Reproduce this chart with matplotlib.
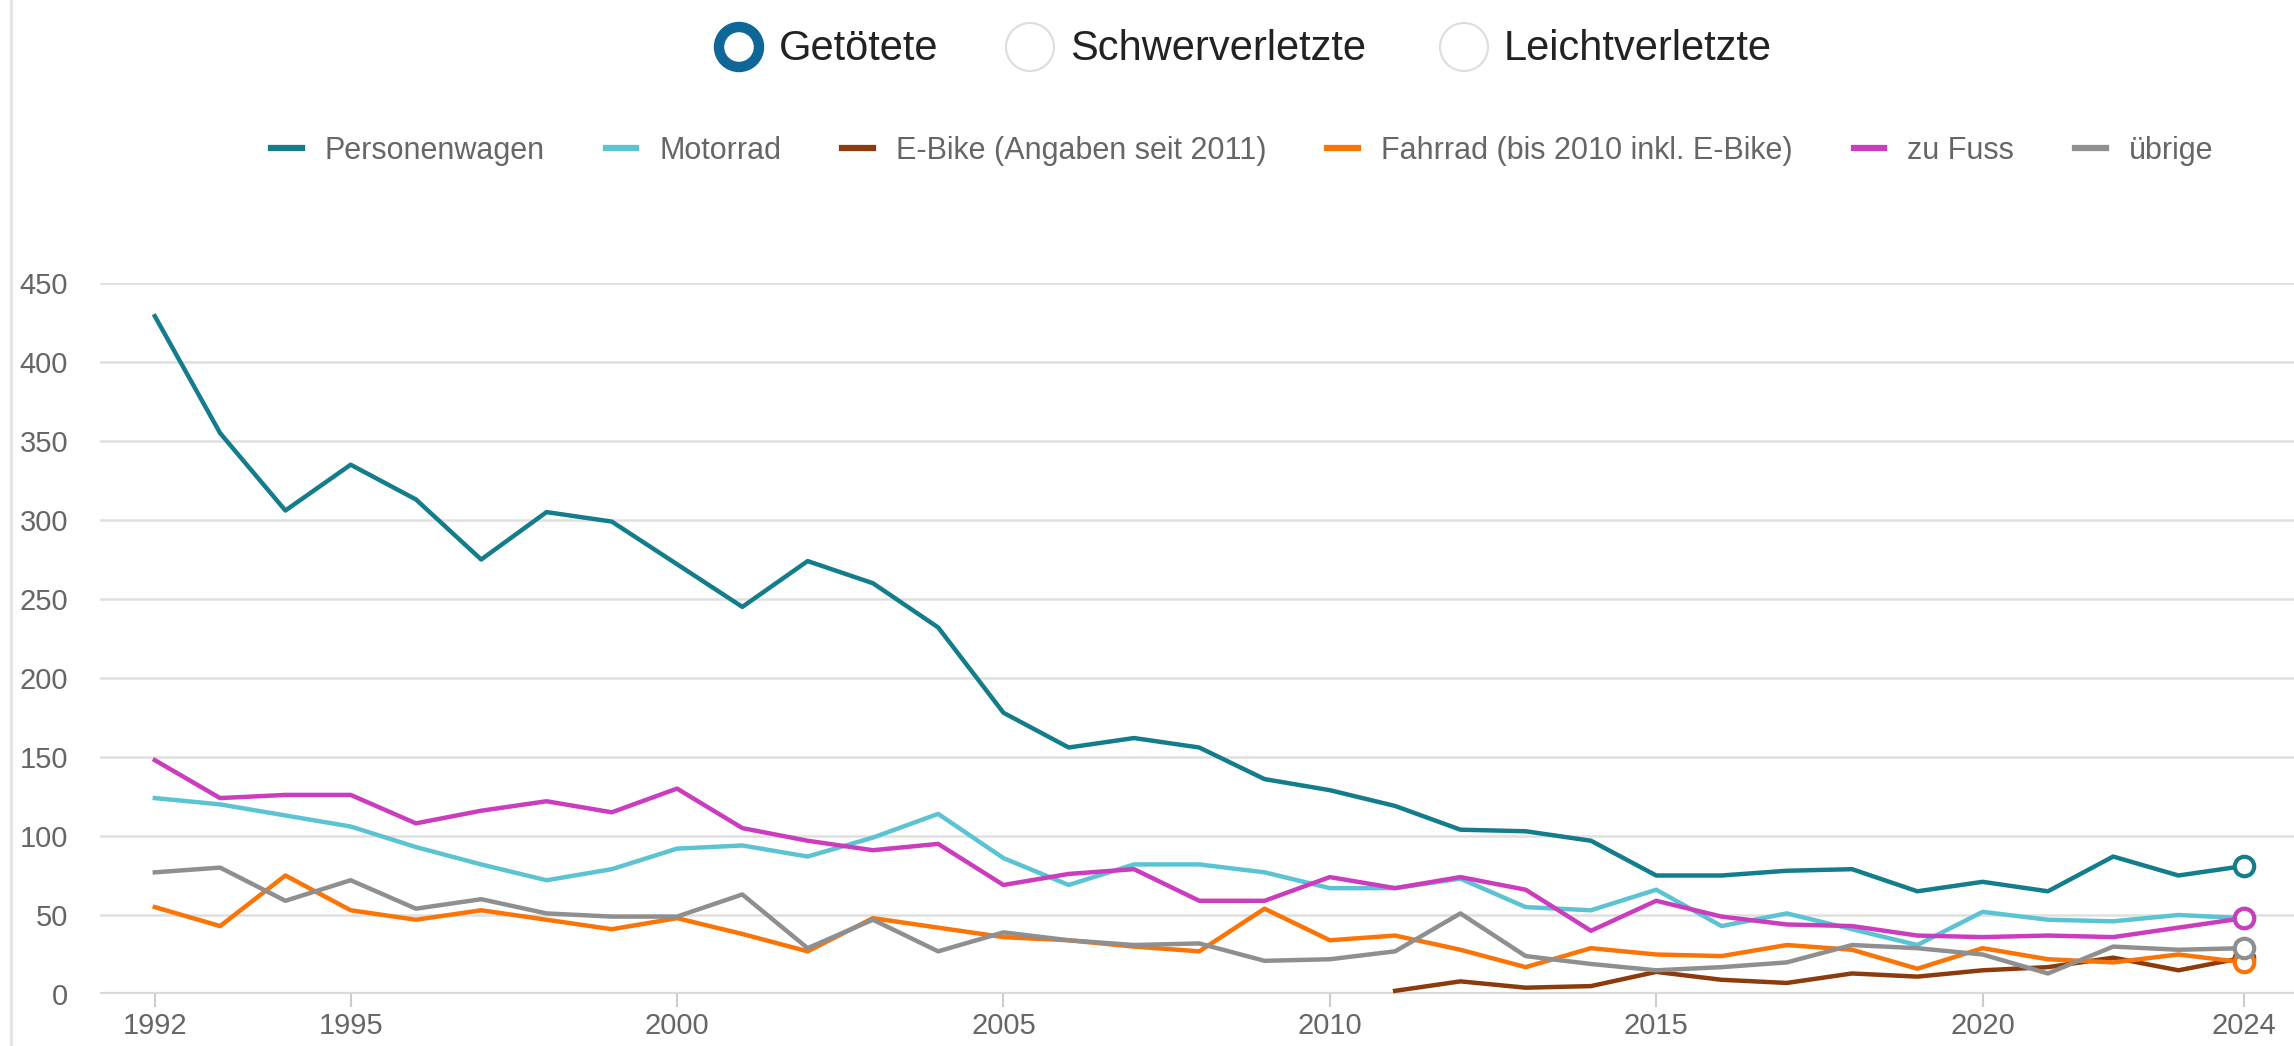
import numpy as np
import matplotlib.pyplot as plt
from matplotlib.patches import Circle

plt.rcParams['font.family'] = ['Liberation Sans', 'DejaVu Sans']

# data
years = list(range(1992, 2025))
personenwagen = [429, 355, 306, 335, 313, 275, 305, 299, 272, 245, 274, 260, 232, 178, 156, 162,
                 156, 136, 129, 119, 104, 103, 97, 75, 75, 78, 79, 65, 71, 65, 87, 75, 81]
motorrad = [124, 120, 113, 106, 93, 82, 72, 79, 92, 94, 87, 99, 114, 86, 69, 82,
            82, 77, 67, 67, 73, 55, 53, 66, 43, 51, 41, 31, 52, 47, 46, 50, 48]
ebike = [None] * 19 + [2, 8, 4, 5, 14, 9, 7, 13, 11, 15, 17, 23, 15, 23]
fahrrad = [55, 43, 75, 53, 47, 53, 47, 41, 48, 38, 27, 48, 42, 36, 34, 30,
           27, 54, 34, 37, 28, 17, 29, 25, 24, 31, 28, 16, 29, 22, 20, 25, 20]
zu_fuss = [148, 124, 126, 126, 108, 116, 122, 115, 130, 105, 97, 91, 95, 69, 76, 79,
           59, 59, 74, 67, 74, 66, 40, 59, 49, 44, 43, 37, 36, 37, 36, 42, 48]
uebrige = [77, 80, 59, 72, 54, 60, 51, 49, 49, 63, 29, 47, 27, 39, 34, 31,
           32, 21, 22, 27, 51, 24, 19, 15, 17, 20, 31, 29, 25, 13, 30, 28, 29]

labels = ['Personenwagen', 'Motorrad', 'E-Bike (Angaben seit 2011)',
          'Fahrrad (bis 2010 inkl. E-Bike)', 'zu Fuss', 'übrige']
series = [personenwagen, motorrad, ebike, fahrrad, zu_fuss, uebrige]
colors = ['#137d8b', '#5cc3d2', '#8c3b0c', '#fb7406', '#cc3cbf', '#8f8f8f']

xticks = [1992, 1995, 2000, 2005, 2010, 2015, 2020, 2024]
yticks = [0, 50, 100, 150, 200, 250, 300, 350, 400, 450]
radio_labels = ['Getötete', 'Schwerverletzte', 'Leichtverletzte']

W, H = 2294, 1046
fig = plt.figure(figsize=(W / 100, H / 100), dpi=100)

# main axes
ax = fig.add_axes([100 / W, 52 / H, (W - 100) / W, (994 - 283) / H])
ax.set_xlim(1991.16, 2024.77)
ax.set_ylim(0, 450)
for s in ax.spines.values():
    s.set_visible(False)
ax.set_yticks(yticks)
ax.set_xticks(xticks)
ax.tick_params(axis='y', length=0, pad=23, labelsize=21, labelcolor='#666666')
ax.tick_params(axis='x', length=9, width=1.5, color='#cccccc', pad=4,
               labelsize=21, labelcolor='#666666')
for y in yticks:
    ax.axhline(y, color='#e0e0e0' if y else '#d9d9d9', lw=1.8 if y else 3, zorder=1)

handles = []
for vals, lab, col in zip(series, labels, colors):
    yv = np.array([np.nan if v is None else v for v in vals], dtype=float)
    ln, = ax.plot(years, yv, color=col, lw=3.2, zorder=3, label=lab)
    ax.plot(years[-1], yv[-1], 'o', ms=14, mfc='white', mec=col, mew=3,
            zorder=4, clip_on=False)
    handles.append(ln)

leg = fig.legend(handles, labels, loc='center', ncol=6,
                 bbox_to_anchor=(1242 / W, 1 - 151 / H), frameon=False,
                 fontsize=22, handlelength=1.0, handletextpad=0.75,
                 columnspacing=2.0, labelcolor='#666666')
for lh in leg.get_lines():
    lh.set_linewidth(4.5)

# overlay in pixel coordinates for radio buttons and card border
ov = fig.add_axes([0, 0, 1, 1], zorder=-1)
ov.set_xlim(0, W)
ov.set_ylim(H, 0)
ov.axis('off')
ov.axvline(11, color='#e6e6e6', lw=2.5)

radio_x = [739, 1030, 1464]
for i, (rx, lab) in enumerate(zip(radio_x, radio_labels)):
    if i == 0:
        ov.add_patch(Circle((rx, 47), 20, facecolor='white', edgecolor='#0f6797', lw=7.5))
    else:
        ov.add_patch(Circle((rx, 47), 24, facecolor='white', edgecolor='#dddddd', lw=1.5))
    ov.text(rx + 40, 49, lab, fontsize=30, color='#222222', va='center', ha='left')

fig.savefig('out.png', dpi=100, facecolor='white')
